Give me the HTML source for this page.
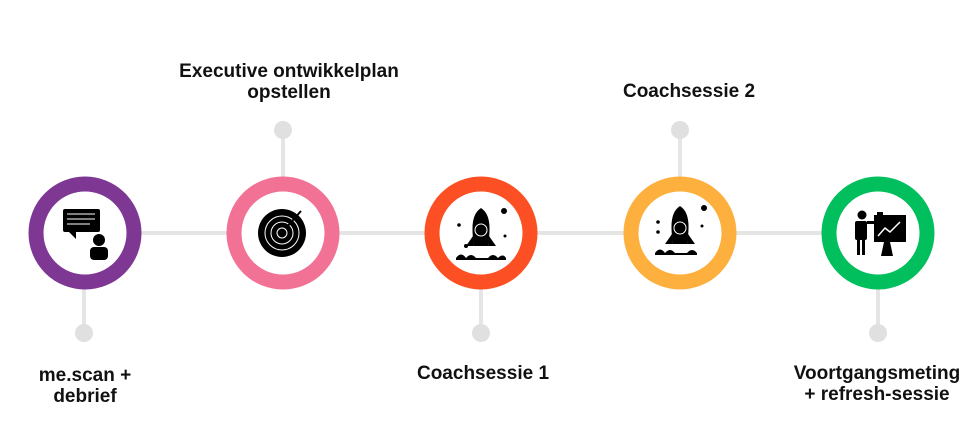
<!DOCTYPE html>
<html><head><meta charset="utf-8"><style>
body{margin:0;width:972px;height:439px;background:#fff;overflow:hidden;font-family:"Liberation Sans",sans-serif}
.t{position:absolute;font-weight:bold;font-size:19px;color:#111;text-align:center;line-height:21px;white-space:nowrap;transform:translateX(-50%)}
</style></head><body>
<svg width="972" height="439" style="position:absolute;left:0;top:0">
<g stroke="#e5e5e5" stroke-width="4" fill="none">
<line x1="84" y1="233" x2="878" y2="233"/>
<line x1="84" y1="233" x2="84" y2="333"/>
<line x1="283" y1="233" x2="283" y2="130"/>
<line x1="481" y1="233" x2="481" y2="333"/>
<line x1="680" y1="233" x2="680" y2="130"/>
<line x1="878" y1="233" x2="878" y2="333"/>
</g>
<g fill="#e0e0e0">
<circle cx="84" cy="333" r="9"/><circle cx="283" cy="130" r="9"/><circle cx="481" cy="333" r="9"/><circle cx="680" cy="130" r="9"/><circle cx="878" cy="333" r="9"/>
</g>
<g fill="#fff" stroke-width="15">
<circle cx="85" cy="233" r="49" stroke="#7f3794"/>
<circle cx="283" cy="233" r="49" stroke="#f27295"/>
<circle cx="481" cy="233" r="49" stroke="#fd4f24"/>
<circle cx="680" cy="233" r="49" stroke="#fdb03d"/>
<circle cx="878" cy="233" r="49" stroke="#01bf5d"/>
</g>
<g fill="#000">
<rect x="63" y="209" width="37" height="23" rx="2"/>
<polygon points="68,231 76,231 76,239"/>
<circle cx="99" cy="240" r="6"/>
<rect x="90" y="247" width="18" height="13" rx="4"/>
</g>
<g stroke="#fff" stroke-width="1"><line x1="67" y1="214" x2="95" y2="214"/><line x1="67" y1="219" x2="95" y2="219"/><line x1="67" y1="224" x2="90" y2="224"/></g>
<circle cx="282" cy="233" r="24" fill="#000"/>
<g fill="none" stroke="#fff" stroke-width="1"><circle cx="282" cy="233" r="17"/><circle cx="282" cy="233" r="11"/><circle cx="282" cy="233" r="5"/></g>
<line x1="286" y1="228" x2="301" y2="211" stroke="#000" stroke-width="2"/>
<g fill="#000">
<path d="M481,208 C490,214 491,226 488,246 L474,246 C471,226 472,214 481,208Z"/>
<polygon points="473,236 466,246 474,246"/><polygon points="489,236 496,246 488,246"/>
<circle cx="459" cy="225" r="1.8"/><circle cx="504" cy="211" r="3"/><circle cx="466" cy="246" r="2"/><circle cx="505" cy="236" r="1.5"/>
<path d="M456,258 q5,-7 10,0 q5,-6 10,0 h12 q5,-6 10,0 q5,-5 8,0 v2 h-50z"/>
<path d="M680,206 C689,212 690,224 687,244 L673,244 C670,224 671,212 680,206Z"/>
<polygon points="672,234 665,244 673,244"/><polygon points="688,234 695,244 687,244"/>
<circle cx="658" cy="222" r="1.8"/><circle cx="704" cy="208" r="3"/><circle cx="658" cy="232" r="1.8"/><circle cx="702" cy="226" r="1.5"/>
<path d="M655,253 q5,-7 10,0 q5,-6 10,0 h12 q5,-6 10,0 v2 h-42z"/>
</g>
<g fill="none" stroke="#fff" stroke-width="1"><circle cx="481" cy="230" r="6"/><circle cx="680" cy="228" r="6"/></g>
<g fill="#000">
<circle cx="862" cy="215" r="4.5"/>
<rect x="855" y="221" width="12" height="19" rx="2"/>
<rect x="857" y="238" width="3" height="17"/><rect x="862" y="238" width="3" height="17"/>
<rect x="867" y="221" width="12" height="3"/>
<rect x="877" y="212" width="6" height="3"/>
<rect x="874" y="215" width="32" height="27"/>
<polygon points="884,242 890,242 893,256 881,256"/>
</g>
<polyline points="878,236 885,228 890,232 900,222" fill="none" stroke="#fff" stroke-width="1.5"/>
</svg>
<div class="t" style="left:289px;top:61px">Executive ontwikkelplan<br>opstellen</div>
<div class="t" style="left:689px;top:81px">Coachsessie 2</div>
<div class="t" style="left:85px;top:365px">me.scan +<br>debrief</div>
<div class="t" style="left:483px;top:363px">Coachsessie 1</div>
<div class="t" style="left:877px;top:363px">Voortgangsmeting<br>+ refresh-sessie</div>
</body></html>
